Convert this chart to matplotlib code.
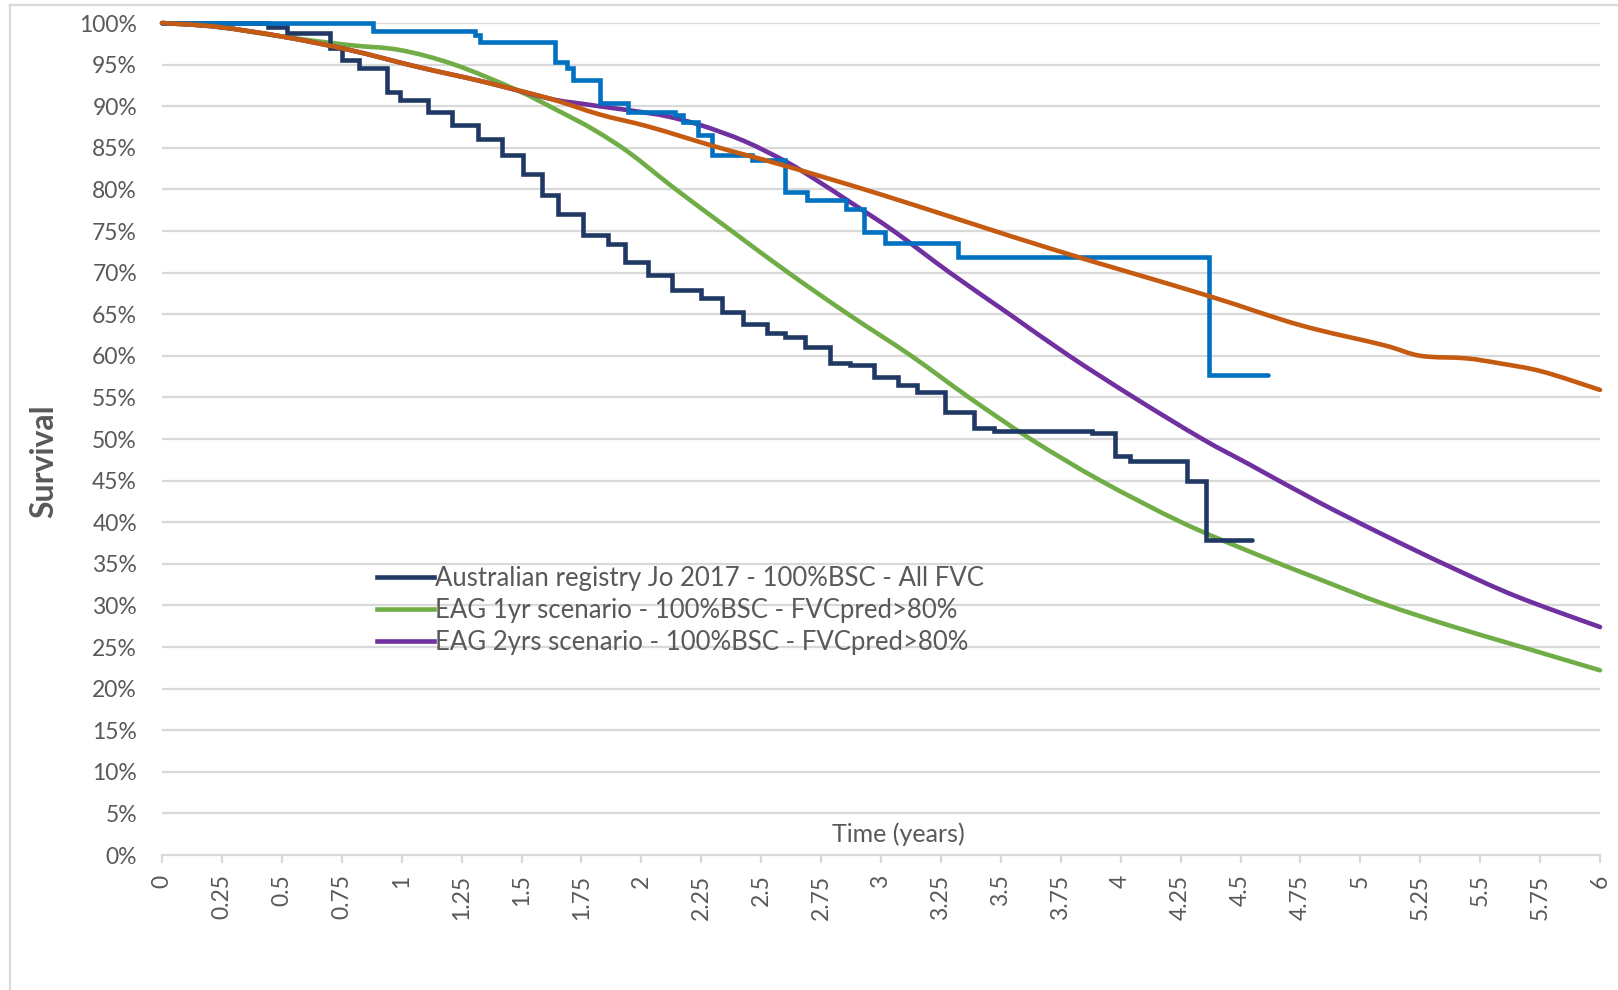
import matplotlib
matplotlib.use("Agg")
import matplotlib.pyplot as plt
from matplotlib.lines import Line2D
from matplotlib.path import Path
from matplotlib.patches import PathPatch

# ---- Kaplan-Meier step data (time in years, survival in %) ----
registry_t = [0, 0.444, 0.52, 0.70, 0.75, 0.82, 0.937, 0.993, 1.111, 1.208, 1.32,
              1.417, 1.507, 1.584, 1.653, 1.758, 1.862, 1.932, 2.029, 2.126, 2.25,
              2.335, 2.425, 2.523, 2.60, 2.683, 2.787, 2.87, 2.97, 3.073, 3.152,
              3.266, 3.39, 3.47, 3.88, 3.975, 4.04, 4.275, 4.355, 4.546]
registry_s = [100, 99.5, 98.75, 96.95, 95.55, 94.55, 91.75, 90.75, 89.35, 87.75, 86.1,
              84.1, 81.9, 79.3, 77.1, 74.5, 73.4, 71.3, 69.7, 67.9, 66.9,
              65.3, 63.8, 62.7, 62.3, 61.0, 59.1, 58.9, 57.5, 56.5, 55.7,
              53.3, 51.3, 50.95, 50.7, 47.9, 47.3, 44.9, 37.9, 37.9]

treated_t = [0, 0.882, 1.306, 1.327, 1.64, 1.688, 1.716, 1.827, 1.946, 2.14, 2.175,
             2.237, 2.293, 2.46, 2.60, 2.69, 2.853, 2.928, 3.016, 3.32, 4.37, 4.616]
treated_s = [100, 99.0, 98.6, 97.75, 95.35, 94.55, 93.15, 90.4, 89.3, 88.9, 88.1,
             86.5, 84.1, 83.5, 79.7, 78.7, 77.6, 74.9, 73.5, 71.9, 57.7, 57.7]

# ---- Modelled survival curves ----
orange_t = [0, 0.228, 0.506, 0.784, 1.063, 1.34, 1.619, 1.827, 2.036, 2.314, 2.592,
            3.009, 3.705, 4.355, 4.747, 5.095, 5.25, 5.44, 5.58, 5.76, 6.0]
orange_s = [100, 99.55, 98.35, 96.75, 94.75, 92.95, 90.9, 89.0, 87.5, 85.1, 82.9,
            79.3, 72.9, 67.3, 63.7, 61.3, 60.0, 59.7, 59.1, 58.1, 55.9]

green_t = [0, 0.228, 0.506, 0.78, 0.993, 1.22, 1.48, 1.65, 1.80, 1.95, 2.135, 2.377,
           2.613, 2.863, 3.126, 3.367, 3.624, 3.916, 4.253, 4.54, 4.82, 5.095, 5.37,
           5.65, 6.0]
green_s = [100, 99.55, 98.35, 97.35, 96.75, 95.0, 91.95, 89.5, 87.2, 84.4, 80.2, 75.0,
           70.0, 65.0, 60.0, 55.0, 50.0, 45.0, 40.0, 36.45, 33.25, 30.2, 27.6,
           25.2, 22.2]

purple_t = [0, 0.228, 0.506, 0.784, 1.063, 1.34, 1.619, 1.75, 1.9, 2.0, 2.105,
            2.25, 2.43, 2.606, 2.731, 2.87, 3.053, 3.287, 3.536, 3.785, 4.055, 4.341,
            4.54, 4.82, 5.095, 5.37, 5.65, 6.0]
purple_s = [100, 99.55, 98.35, 96.75, 94.75, 92.95, 90.9, 90.3, 89.7, 89.3, 88.8,
            87.7, 85.8, 83.3, 81.1, 78.5, 75.0, 70.0, 65.0, 60.0, 55.0, 50.0,
            46.9, 42.5, 38.5, 34.7, 31.1, 27.4]

legend_labels = ["Australian registry Jo 2017 - 100%BSC - All FVC",
                 "EAG 1yr scenario - 100%BSC - FVCpred>80%",
                 "EAG 2yrs scenario - 100%BSC - FVCpred>80%"]

x_ticks = [i * 0.25 for i in range(25)]
x_tick_labels = ["0", "0.25", "0.5", "0.75", "1", "1.25", "1.5", "1.75", "2", "2.25",
                 "2.5", "2.75", "3", "3.25", "3.5", "3.75", "4", "4.25", "4.5", "4.75",
                 "5", "5.25", "5.5", "5.75", "6"]
y_ticks = list(range(0, 101, 5))
y_tick_labels = [f"{v}%" for v in y_ticks]

NAVY = "#203864"
GREEN = "#70AD47"
PURPLE = "#7030A0"
ORANGE = "#C55A11"
BLUE = "#0070C0"
GRID = "#D9D9D9"
TEXT = "#595959"
LW = 3.3


def smooth_path(xs, ys):
    """Cubic Bezier path through the points (Catmull-Rom style smoothing)."""
    pts = list(zip(xs, ys))
    n = len(pts)
    verts = [pts[0]]
    codes = [Path.MOVETO]
    for i in range(n - 1):
        p0 = pts[i - 1] if i > 0 else pts[i]
        p1 = pts[i]
        p2 = pts[i + 1]
        p3 = pts[i + 2] if i + 2 < n else pts[i + 1]
        c1 = (p1[0] + (p2[0] - p0[0]) / 6, p1[1] + (p2[1] - p0[1]) / 6)
        c2 = (p2[0] - (p3[0] - p1[0]) / 6, p2[1] - (p3[1] - p1[1]) / 6)
        verts += [c1, c2, p2]
        codes += [Path.CURVE4] * 3
    return Path(verts, codes)


def smooth_line(ax, xs, ys, color, z):
    patch = PathPatch(smooth_path(xs, ys), facecolor="none", edgecolor=color,
                      lw=LW, zorder=z, capstyle="round", joinstyle="round",
                      transform=ax.transData, clip_on=False)
    ax.add_patch(patch)


plt.rcParams["font.family"] = ["Lato", "DejaVu Sans"]

fig = plt.figure(figsize=(16.18, 9.90), dpi=100)
ax = fig.add_axes([162 / 1618, 1 - 855 / 990, (1600 - 162) / 1618, (855 - 23) / 990])

ax.set_xlim(0, 6)
ax.set_ylim(0, 100)

# horizontal gridlines
for v in y_ticks[1:]:
    ax.axhline(v, color=GRID, lw=1.6, zorder=0)

smooth_line(ax, green_t, green_s, GREEN, 2)
smooth_line(ax, purple_t, purple_s, PURPLE, 3)
ax.step(registry_t, registry_s, where="post", color=NAVY, lw=LW, zorder=4,
        clip_on=False, solid_capstyle="round", solid_joinstyle="miter")
ax.step(treated_t, treated_s, where="post", color=BLUE, lw=LW, zorder=5,
        clip_on=False, solid_capstyle="round", solid_joinstyle="miter")
smooth_line(ax, orange_t, orange_s, ORANGE, 6)

for side in ["top", "right", "left"]:
    ax.spines[side].set_visible(False)
ax.spines["bottom"].set_color(GRID)
ax.spines["bottom"].set_linewidth(1.6)

ax.set_xticks(x_ticks)
ax.set_xticklabels(x_tick_labels, rotation=90, va="top", ha="center")
ax.set_yticks(y_ticks)
ax.set_yticklabels(y_tick_labels)
ax.tick_params(axis="x", direction="out", length=6, width=1.6, color=GRID,
               labelsize=16.5, labelcolor=TEXT, pad=8)
ax.tick_params(axis="y", length=0, labelsize=16.5, labelcolor=TEXT, pad=18)

ax.text(0.512, (855 - 834) / 832, "Time (years)", transform=ax.transAxes,
        ha="center", va="center", fontsize=18, color=TEXT)
fig.text(44 / 1618, 1 - 461 / 990, "Survival", rotation=90, ha="center",
         va="center", fontsize=23, fontweight="bold", color=TEXT)

handles = [Line2D([], [], color=c, lw=LW) for c in (NAVY, GREEN, PURPLE)]
ax.legend(handles, legend_labels, loc="upper left",
          bbox_to_anchor=((377 - 162) / 1438, (855 - 566) / 832),
          frameon=False, fontsize=18.5, labelcolor=TEXT, handlelength=2.2,
          handletextpad=0.05, labelspacing=0.28, borderpad=0, borderaxespad=0)

# chart-area border
fig.add_artist(Line2D([10 / 1618, 10 / 1618], [0, 1 - 5 / 990], color=GRID, lw=1.6))
fig.add_artist(Line2D([10 / 1618, 1], [1 - 5 / 990, 1 - 5 / 990], color=GRID, lw=1.6))

fig.savefig("out.png", dpi=100, facecolor="white")
